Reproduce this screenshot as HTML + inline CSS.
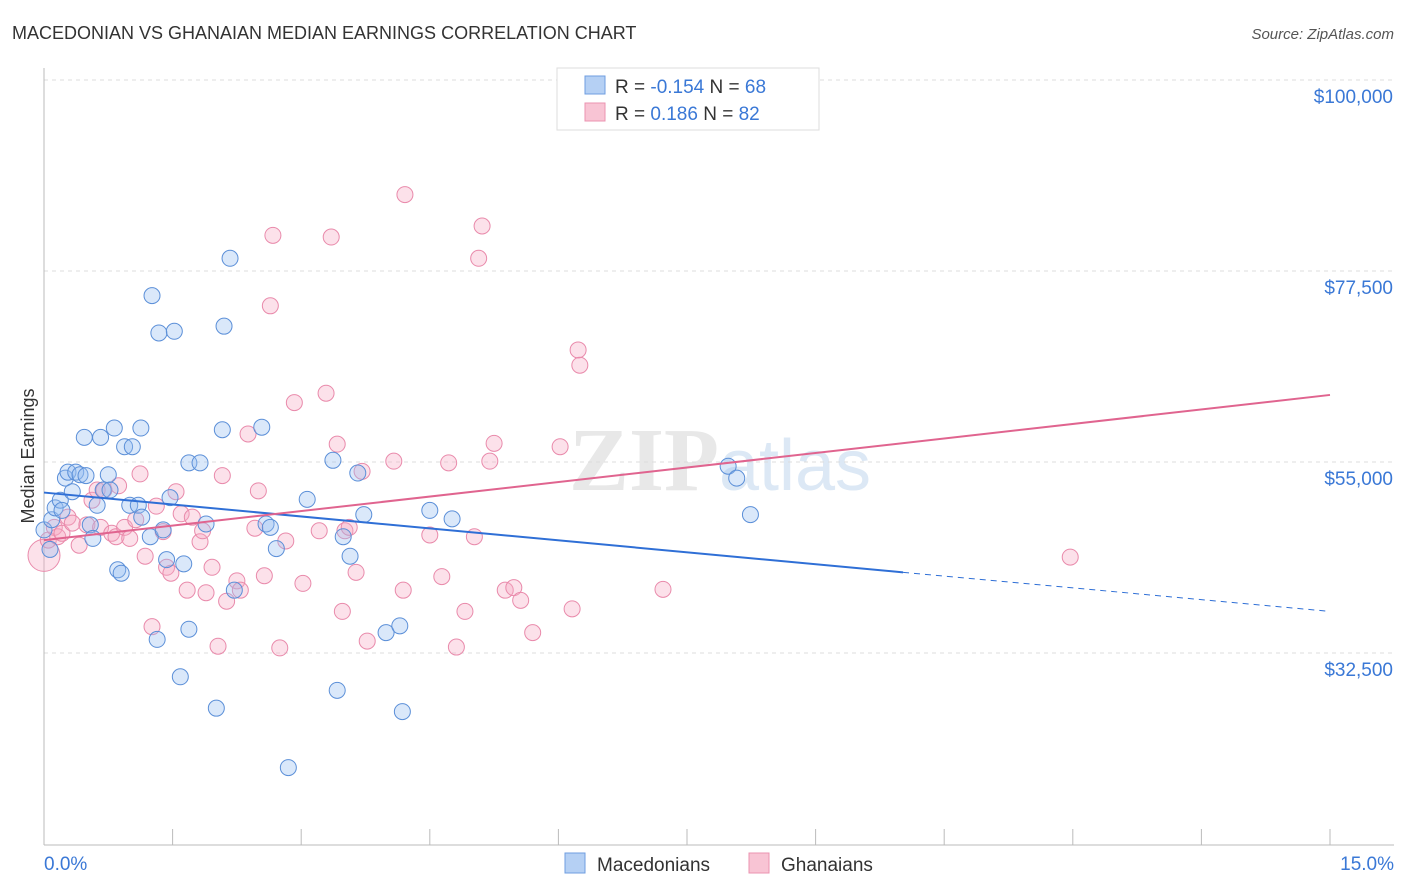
<!DOCTYPE html>
<html><head><meta charset="utf-8"><style>
body{margin:0;background:#fff;font-family:"Liberation Sans",sans-serif;}
svg{display:block}
</style></head><body>
<svg id="chart" width="1406" height="892">
<text x="12" y="39" font-size="18" fill="#333">MACEDONIAN VS GHANAIAN MEDIAN EARNINGS CORRELATION CHART</text>
<text x="1394" y="39" font-size="15" fill="#555" text-anchor="end" font-style="italic">Source: ZipAtlas.com</text>
<text x="34" y="456" font-size="18" fill="#333" text-anchor="middle" transform="rotate(-90 34 456)">Median Earnings</text>
<text x="720" y="490" font-size="90" fill="#e8e8e8" text-anchor="middle" font-family="Liberation Serif,serif" font-weight="bold">ZIP<tspan fill="#dce8f5" font-family="Liberation Sans,sans-serif" font-weight="normal" font-size="72">atlas</tspan></text>
<g id="grid"></g><g id="axes"></g><g id="pts"></g><g id="trends"></g>
<g>
<rect x="557" y="68" width="262" height="62" fill="#fff" stroke="#ddd"/>
<rect x="585" y="76" width="20" height="18" fill="#b5d0f4" stroke="#6f9ee0"/>
<rect x="585" y="103" width="20" height="18" fill="#f8c4d4" stroke="#eb93b0"/>
<text x="615" y="93" font-size="19" fill="#333">R = <tspan fill="#3a78d6">-0.154</tspan>   N = <tspan fill="#3a78d6">68</tspan></text>
<text x="615" y="120" font-size="19" fill="#333">R =  <tspan fill="#3a78d6"> 0.186</tspan>   N = <tspan fill="#3a78d6">82</tspan></text>
</g>
<g>
<rect x="565" y="853" width="20" height="20" fill="#b5d0f4" stroke="#6f9ee0"/>
<text x="597" y="871" font-size="19" fill="#333">Macedonians</text>
<rect x="749" y="853" width="20" height="20" fill="#f8c4d4" stroke="#eb93b0"/>
<text x="781" y="871" font-size="19" fill="#333">Ghanaians</text>
</g>
</svg>
<script>
const yTicks=[100000,77500,55000,32500];
const yTickLabels=["$100,000","$77,500","$55,000","$32,500"];
const xTickLabels=["0.0%","15.0%"];
const blueX=[0,.07,.09,.13,.19,.21,.25,.28,.33,.37,.42,.47,.49,.54,.57,.62,.66,.69,.75,.77,.82,.94,1.03,1.00,1.13,1.10,1.14,1.24,1.26,1.34,1.39,1.43,1.47,1.52,1.59,1.63,1.69,1.69,1.82,1.89,2.01,2.08,2.10,2.17,2.22,2.54,2.59,2.64,2.71,2.85,3.07,3.37,3.42,3.49,3.57,3.66,3.73,3.99,4.15,4.18,4.50,4.76,7.98,8.08,8.24,.86,.90,1.32];
const blueY=[47.0,44.7,48.2,49.6,50.5,49.3,53.1,53.8,51.5,53.8,53.5,57.9,53.4,47.6,46.0,49.9,57.9,51.7,53.5,51.7,59.0,56.8,56.8,49.9,59.0,49.9,48.5,46.2,74.6,70.2,47.0,43.5,50.8,70.4,29.7,43.0,35.3,54.9,54.9,47.7,26.0,58.8,71.0,79.0,39.9,59.1,47.7,47.3,44.8,19.0,50.6,55.2,28.1,46.2,43.9,53.7,48.8,34.9,35.7,25.6,49.3,48.3,54.5,53.1,48.8,42.3,41.9,34.1];
const pinkX=[0,.05,.12,.16,.21,.28,.33,.41,.50,.56,.62,.66,.70,.79,.84,.87,.94,1.00,1.07,1.12,1.18,1.26,1.31,1.39,1.43,1.48,1.54,1.60,1.67,1.73,1.82,1.85,1.89,1.96,2.03,2.08,2.13,2.25,2.29,2.38,2.46,2.50,2.57,2.64,2.67,2.75,2.82,2.92,3.02,3.21,3.29,3.35,3.42,3.48,3.51,3.56,3.64,3.71,3.77,4.08,4.19,4.21,4.50,4.64,4.72,4.81,4.91,5.02,5.07,5.11,5.20,5.25,5.38,5.48,5.56,5.70,6.02,6.16,6.23,6.25,6.93,7.22,11.97];
const pinkY=[44.0,45.8,47.3,46.2,46.6,48.5,47.8,45.2,47.6,50.5,51.7,47.3,51.7,46.6,46.2,52.2,47.3,46.0,48.2,53.6,43.9,35.6,49.8,46.8,42.6,41.9,51.5,48.9,39.9,48.5,45.6,46.9,39.6,42.6,33.3,53.4,38.6,41.0,39.9,58.3,47.2,51.6,41.6,73.4,81.7,33.1,45.7,62.0,40.7,46.9,63.1,81.5,57.1,37.4,46.9,47.3,42.0,53.9,33.9,55.1,39.9,86.5,46.4,41.5,54.9,33.2,37.4,46.2,79.0,82.8,55.1,57.2,39.9,40.2,38.7,34.9,56.8,37.7,68.2,66.4,95.4,40.0,43.8];
const blueTrend=[51.4,42.0,37.4]; // at x=0, 10.02, 15
const blueTrendX=[0,10.02,15];
const pinkTrend=[45.8,62.9];
const pinkTrendX=[0,15];
const NS="http://www.w3.org/2000/svg";
const X=v=>44+v/15*1286;
const Y=k=>80+(100-k)/22.5*191;
function mk(tag,attrs,parent){const e=document.createElementNS(NS,tag);for(const a in attrs)e.setAttribute(a,attrs[a]);parent.appendChild(e);return e;}
const grid=document.getElementById('grid'),axes=document.getElementById('axes'),pts=document.getElementById('pts'),tr=document.getElementById('trends');
yTicks.forEach((t,i)=>{const y=Y(t/1000);
const l=mk('line',{x1:44,x2:1394,y1:y,y2:y,stroke:'#ddd','stroke-dasharray':'4,4'},grid);


const tx=mk('text',{x:1393,y:y+23,'font-size':19,fill:'#3a78d6','text-anchor':'end'},grid);tx.textContent=yTickLabels[i];

});
const ax=mk('line',{x1:44,x2:1394,y1:845,y2:845,stroke:'#bbb'},axes);


const ay=mk('line',{x1:44,x2:44,y1:68,y2:845,stroke:'#bbb'},axes);


for(let i=0;i<=10;i++){const x=X(i*1.5);const t=mk('line',{x1:x,x2:x,y1:829,y2:845,stroke:'#bbb'},axes);

}
const xl0=mk('text',{x:44,y:870,'font-size':19,fill:'#3a78d6'},axes);xl0.textContent=xTickLabels[0];


const xl1=mk('text',{x:1394,y:870,'font-size':19,fill:'#3a78d6','text-anchor':'end'},axes);xl1.textContent=xTickLabels[1];


pinkX.forEach((v,i)=>{const c=mk('circle',{cx:X(v),cy:Y(pinkY[i]),r:i===0?16:8,fill:'rgba(245,170,195,0.35)',stroke:'#e98aab','stroke-width':1},pts);

});
blueX.forEach((v,i)=>{const c=mk('circle',{cx:X(v),cy:Y(blueY[i]),r:8,fill:'rgba(150,190,240,0.35)',stroke:'#5b8fd8','stroke-width':1},pts);

});
const b1=mk('line',{x1:X(blueTrendX[0]),y1:Y(blueTrend[0]),x2:X(blueTrendX[1]),y2:Y(blueTrend[1]),stroke:'#2f6fd6','stroke-width':2},tr);


const b2=mk('line',{x1:X(blueTrendX[1]),y1:Y(blueTrend[1]),x2:X(blueTrendX[2]),y2:Y(blueTrend[2]),stroke:'#2f6fd6','stroke-width':1,'stroke-dasharray':'6,5'},tr);


const p1=mk('line',{x1:X(pinkTrendX[0]),y1:Y(pinkTrend[0]),x2:X(pinkTrendX[1]),y2:Y(pinkTrend[1]),stroke:'#e0648f','stroke-width':2},tr);


</script>
</body></html>
